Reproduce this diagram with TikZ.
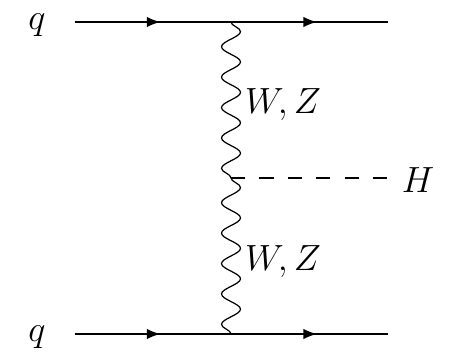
\documentclass[tikz,border=0pt]{standalone}
\usepackage{amsmath,amssymb}
\usetikzlibrary{arrows.meta,positioning,calc,decorations.markings,decorations.pathmorphing}
\begin{document}
\begin{tikzpicture}[font=\huge,x=0.02cm,y=-0.02cm,
   quark/.style={line width=0.85pt,postaction={decorate},decoration={markings,
                 mark=at position 0.547 with {\arrow{Latex[length=0.27cm,width=0.21cm]}}}},
   boson/.style={line width=0.7pt,decorate,decoration={snake,segment length=0.6085cm,
                 amplitude=0.19cm}},
   higgs/.style={line width=0.7pt,dash pattern=on 0.285cm off 0.283cm},
   lbl/.style={inner sep=0pt,anchor=base}]
  \useasboundingbox (0,0) rectangle (452,352);
  % vertices and free ends
  \coordinate (v1) at (231,22);
  \coordinate (v2) at (231,178);
  \coordinate (v3) at (231,334);
  \coordinate (in1) at (75,22);
  \coordinate (in2) at (75,334);
  \coordinate (out1) at (388,22);
  \coordinate (out2) at (388,334);
  \coordinate (outH) at (388,178);
  % lines
  \draw[quark] (in1) -- (v1);
  \draw[quark] (v1) -- (out1);
  \draw[quark] (in2) -- (v3);
  \draw[quark] (v3) -- (out2);
  \draw[boson] (v1) -- (v2);
  \draw[boson] (v2) -- (v3);
  \draw[higgs] (v2) -- (outH);
  % labels
  \node[lbl] (q1) at (37,29) {$q$};
  \node[lbl] (q2) at (37,341) {$q$};
  \node[lbl] (wz1) at (283,113) {$W,Z$};
  \node[lbl] (wz2) at (283,270) {$W,Z$};
  \node[lbl] (h) at (418,192) {$H$};
\end{tikzpicture}
\end{document}
